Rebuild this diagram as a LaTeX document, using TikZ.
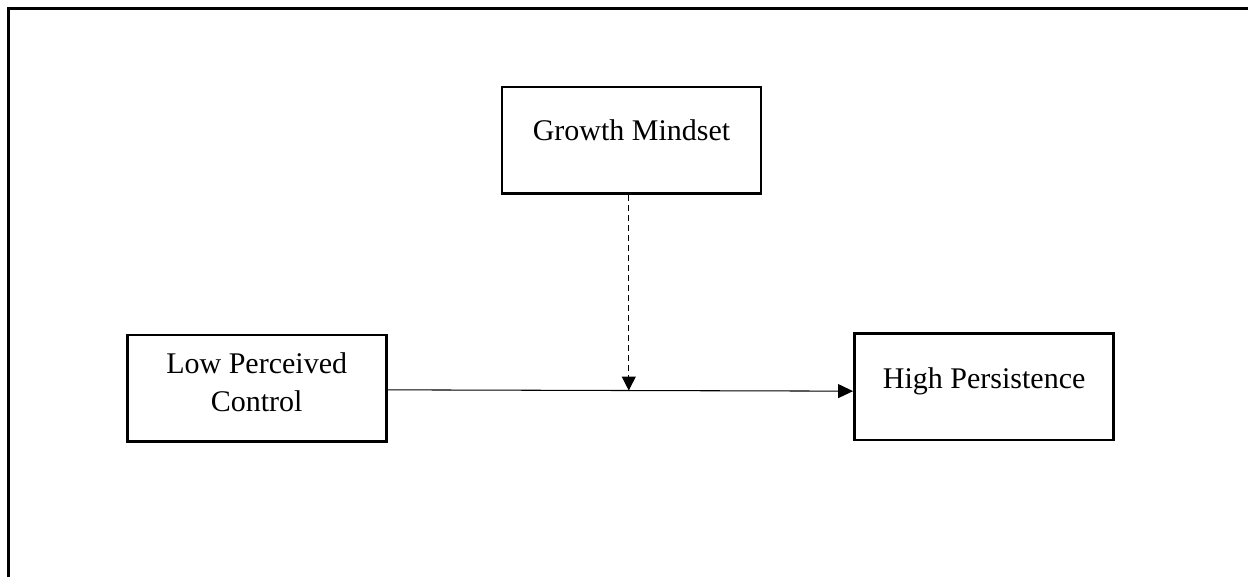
\documentclass[tikz,border=0pt]{standalone}
\usepackage{fontspec}
\setmainfont{Liberation Serif}
\usetikzlibrary{arrows.meta}

\tikzset{
  box/.style={rectangle, draw, line width=1.4pt, minimum width=5.18cm, minimum height=2.13cm, inner sep=0pt},
  lbl/.style={inner sep=0pt, font=\fontsize{17.07pt}{21.8pt}\selectfont},
  link/.style={-{Triangle[length=0.3cm, width=0.28cm]}, line width=0.6pt},
  modlink/.style={-{Triangle[length=0.28cm, width=0.28cm]}, line width=0.6pt, dash pattern=on 0.12cm off 0.08cm},
}

\begin{document}
\begin{tikzpicture}
  \useasboundingbox (0,0) rectangle (24.96,11.54);

  % Frame
  \draw[line width=1.7pt] (0.17,0) -- (0.17,11.37) -- (24.96,11.37);

  % Boxes
  \node[box] (gm) at (12.634, 8.733) {};
  \node[box] (lpc) at (5.14, 3.773) {};
  \node[box] (hp) at (19.676, 3.807) {};

  % Box texts
  \node[lbl, anchor=base] (gmtext) at (12.63, 8.726) {Growth Mindset};
  \node[lbl, align=center] (lpctext) at (5.134, 3.894) {Low Perceived\\Control};
  \node[lbl, anchor=base] (hptext) at (19.684, 3.774) {High Persistence};

  % Main path
  \draw[link] ([yshift=-0.03cm]lpc.east) -- ([yshift=-0.09cm]hp.west)
    coordinate[pos=0.518] (mod);

  % Moderator
  \draw[modlink] (gm.south -| mod) -- (mod);

\end{tikzpicture}
\end{document}
